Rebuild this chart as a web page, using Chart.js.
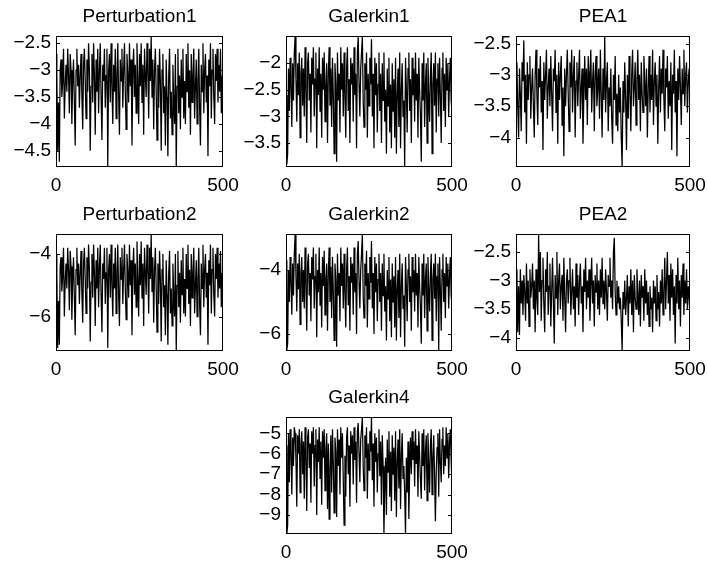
<!DOCTYPE html>
<html>
<head>
    <title>Perturbation / Galerkin / PEA series</title>
    <meta charset="UTF-8">
    <style>
        body { margin: 0; background: #fff; }
        canvas { position: absolute; }
    </style>
</head>
<body>
<script src="https://cdn.jsdelivr.net/npm/chart.js@4.4.1/dist/chart.umd.min.js"></script>
<script>
    // one value every 2.5 steps, 0..500
    var steps = Array.from({length: 201}, function (_, i) { return i * 2.5; });
    var xTicks = [0, 500];

    var titles = ['Perturbation1', 'Galerkin1', 'PEA1', 'Perturbation2', 'Galerkin2', 'PEA2', 'Galerkin4'];

    var perturbation1 = [
        -2.7, -3.1, -4.5, -3.6, -4.7, -3.0, -2.8, -3.5, -3.2, -2.6,
        -3.9, -3.3, -2.9, -3.4, -2.6, -3.1, -3.8, -2.7, -3.0, -4.0,
        -3.2, -2.8, -3.6, -4.4, -3.0, -2.6, -3.3, -2.9, -3.7, -3.1,
        -2.7, -3.5, -4.1, -2.9, -2.6, -3.2, -3.9, -2.8, -3.4, -2.5,
        -3.0, -4.5, -3.3, -2.7, -3.6, -2.5, -3.1, -4.2, -2.8, -3.4,
        -2.6, -3.8, -3.0, -2.5, -3.5, -4.3, -2.9, -3.2, -2.6, -3.7,
        -3.1, -2.6, -4.8, -3.0, -2.7, -3.6, -2.5, -3.3, -4.0, -2.9,
        -3.4, -2.6, -3.9, -3.1, -2.5, -3.5, -4.2, -2.8, -3.2, -2.6,
        -3.7, -3.0, -2.5, -3.4, -4.1, -2.7, -3.1, -3.6, -2.5, -3.3,
        -2.8, -4.4, -3.0, -2.6, -3.5, -2.9, -3.8, -2.5, -3.2, -4.0,
        -2.7, -3.3, -2.5, -3.6, -2.9, -4.2, -2.6, -3.1, -3.5, -2.5,
        -3.0, -3.9, -2.6, -3.2, -2.37, -3.5, -2.8, -4.1, -3.0, -2.6,
        -3.4, -4.3, -2.9, -3.7, -2.6, -3.2, -4.5, -3.0, -2.7, -3.8,
        -3.3, -4.4, -2.8, -3.5, -4.6, -3.1, -2.6, -3.9, -3.4, -4.2,
        -2.9, -3.6, -4.0, -2.7, -4.8, -3.3, -2.6, -3.8, -3.1, -4.1,
        -2.8, -3.5, -2.6, -3.9, -3.2, -4.0, -2.7, -3.4, -2.5, -3.7,
        -3.0, -4.2, -2.7, -3.6, -3.1, -2.6, -3.9, -3.3, -2.8, -4.0,
        -3.2, -2.6, -3.7, -4.4, -2.9, -3.4, -2.5, -3.8, -3.0, -2.7,
        -3.6, -3.1, -4.6, -2.8, -3.3, -2.5, -3.9, -3.0, -2.6, -3.5,
        -4.0, -2.7, -3.2, -2.6, -3.6, -2.9, -3.4, -2.6, -3.8, -3.1,
        -3.7
    ];
    var galerkin1 = [
        -2.6, -3.9, -3.7, -2.1, -2.9, -1.9, -2.4, -3.2, -2.0, -2.7,
        -1.8, -1.5, -2.3, -3.1, -2.0, -2.6, -1.8, -3.4, -2.2, -1.9,
        -2.8, -2.1, -3.0, -1.7, -2.5, -3.5, -2.0, -1.8, -2.7, -2.2,
        -3.3, -1.9, -2.4, -1.7, -3.0, -2.3, -1.8, -3.6, -2.1, -2.6,
        -1.7, -2.9, -2.2, -3.4, -1.9, -2.5, -1.8, -3.1, -2.4, -2.0,
        -3.5, -2.2, -1.7, -2.8, -2.1, -3.2, -1.9, -2.6, -3.7, -2.0,
        -2.4, -3.85, -1.8, -2.7, -2.2, -3.3, -1.7, -2.5, -2.0, -3.0,
        -1.8, -2.6, -3.4, -2.1, -1.7, -2.9, -2.3, -3.5, -1.9, -2.4,
        -2.0, -3.1, -1.7, -2.6, -2.2, -3.6, -1.8, -1.5, -2.4, -3.0,
        -2.1, -1.8, -1.49, -2.7, -3.2, -2.0, -2.5, -1.8, -3.4, -2.2,
        -2.8, -1.9, -2.4, -1.55, -3.0, -2.2, -3.6, -1.9, -2.6, -2.0,
        -3.3, -2.4, -1.8, -2.9, -2.2, -3.5, -2.0, -2.7, -1.8, -3.1,
        -2.5, -3.7, -2.1, -2.8, -1.9, -3.3, -2.4, -3.6, -2.0, -2.9,
        -2.3, -3.4, -1.9, -3.7, -2.6, -2.1, -3.2, -1.8, -3.6, -2.5,
        -2.0, -3.0, -2.7, -3.95, -1.9, -2.5, -3.3, -2.1, -1.8, -2.9,
        -2.3, -3.5, -1.9, -2.6, -2.1, -3.1, -1.8, -2.7, -2.2, -3.4,
        -1.9, -2.5, -3.0, -3.85, -2.0, -2.7, -1.8, -3.2, -2.4, -2.0,
        -3.5, -1.9, -2.6, -3.1, -2.2, -1.8, -3.7, -2.4, -2.0, -2.8,
        -1.8, -3.3, -2.3, -2.0, -3.0, -1.9, -2.6, -3.5, -2.1, -1.8,
        -2.9, -2.2, -3.2, -1.9, -2.5, -2.0, -3.0, -2.3, -1.9, -2.7,
        -2.9
    ];
    var pea1 = [
        -3.2, -2.8, -3.5, -4.0, -2.9, -3.3, -3.9, -2.8, -3.1, -2.45,
        -3.6, -3.0, -4.1, -2.8, -3.4, -3.0, -2.7, -3.7, -3.2, -2.9,
        -3.5, -4.0, -3.0, -2.6, -3.3, -3.8, -2.9, -3.2, -2.7, -3.6,
        -3.1, -4.2, -2.8, -3.4, -3.0, -2.6, -3.7, -3.2, -2.9, -3.5,
        -2.7, -3.3, -3.9, -2.9, -3.1, -2.6, -3.6, -3.0, -4.1, -2.8,
        -3.4, -3.0, -2.7, -3.8, -3.2, -4.3, -2.9, -3.5, -3.0, -2.6,
        -3.3, -3.9, -2.8, -3.2, -2.6, -3.6, -3.0, -2.7, -4.0, -3.1,
        -2.8, -3.5, -3.0, -2.6, -3.7, -3.2, -2.9, -4.1, -3.3, -2.7,
        -3.4, -2.9, -3.8, -2.7, -3.2, -3.0, -2.6, -3.6, -3.1, -2.8,
        -3.9, -3.0, -2.7, -3.5, -3.2, -2.9, -3.7, -2.6, -3.3, -4.0,
        -2.9, -3.4, -2.38, -3.6, -3.1, -2.8, -3.9, -3.2, -3.5, -2.9,
        -3.7, -4.1, -3.0, -3.4, -2.7, -3.8, -3.3, -3.9, -3.0, -3.6,
        -3.2, -4.0, -4.47, -3.1, -3.6, -2.8, -3.4, -4.2, -3.0, -3.7,
        -2.7, -3.3, -3.9, -3.0, -2.6, -3.5, -3.2, -2.8, -3.8, -3.1,
        -2.6, -3.4, -3.0, -3.9, -2.8, -3.3, -3.6, -2.7, -3.1, -3.5,
        -2.9, -4.0, -3.2, -2.7, -3.6, -3.0, -3.4, -2.6, -3.8, -3.1,
        -2.8, -3.5, -3.0, -4.1, -3.2, -2.7, -3.6, -2.9, -3.3, -2.6,
        -3.4, -3.9, -2.9, -3.2, -2.7, -3.7, -3.1, -3.5, -2.8, -4.2,
        -3.0, -3.3, -2.6, -3.6, -3.1, -4.3, -2.9, -3.4, -2.7, -3.2,
        -3.8, -2.9, -3.3, -2.6, -3.5, -3.0, -2.8, -3.6, -3.1, -2.9,
        -3.5
    ];
    var perturbation2 = [
        -4.0, -4.6, -7.0, -5.5, -6.9, -4.4, -4.1, -5.2, -4.7, -3.8,
        -6.0, -4.9, -4.3, -5.1, -3.8, -4.5, -5.8, -3.9, -4.4, -6.1,
        -4.8, -4.1, -5.4, -6.6, -4.5, -3.8, -5.0, -4.3, -5.6, -4.6,
        -3.9, -5.3, -6.2, -4.3, -3.8, -4.8, -5.9, -4.1, -5.1, -3.7,
        -4.5, -6.8, -4.9, -4.0, -5.4, -3.7, -4.6, -6.3, -4.2, -5.1,
        -3.8, -5.7, -4.4, -3.7, -5.3, -6.5, -4.3, -4.8, -3.8, -5.6,
        -4.6, -3.8, -7.0, -4.5, -4.0, -5.4, -3.7, -5.0, -6.0, -4.3,
        -5.1, -3.8, -5.9, -4.6, -3.7, -5.3, -6.3, -4.1, -4.8, -3.8,
        -5.6, -4.5, -3.7, -5.1, -6.1, -4.0, -4.6, -5.4, -3.7, -5.0,
        -4.2, -6.6, -4.5, -3.8, -5.3, -4.3, -5.7, -3.6, -4.8, -6.0,
        -4.0, -5.0, -3.6, -5.4, -4.3, -6.3, -3.8, -4.6, -5.3, -3.7,
        -4.5, -5.9, -3.8, -4.8, -3.37, -5.2, -4.1, -6.2, -4.5, -3.8,
        -5.1, -6.5, -4.3, -5.6, -3.9, -4.8, -6.8, -4.5, -4.0, -5.7,
        -5.0, -6.6, -4.2, -5.3, -6.9, -4.6, -3.9, -5.9, -5.1, -6.3,
        -4.3, -5.4, -6.0, -4.0, -7.1, -5.0, -3.9, -5.7, -4.6, -6.2,
        -4.2, -5.3, -3.8, -5.9, -4.8, -6.0, -4.0, -5.1, -3.7, -5.6,
        -4.5, -6.3, -4.0, -5.4, -4.6, -3.8, -5.9, -5.0, -4.2, -6.0,
        -4.8, -3.8, -5.6, -6.6, -4.3, -5.1, -3.7, -5.7, -4.5, -4.0,
        -5.4, -4.6, -6.9, -4.2, -5.0, -3.7, -5.9, -4.5, -3.8, -5.3,
        -6.0, -4.0, -4.8, -3.8, -5.4, -4.3, -5.1, -3.9, -5.7, -4.6,
        -5.5
    ];
    var galerkin2 = [
        -3.7, -6.5, -6.3, -4.0, -5.0, -3.6, -4.4, -5.4, -3.8, -4.8,
        -3.5, -2.9, -4.2, -5.3, -3.8, -4.6, -3.5, -5.7, -4.1, -3.6,
        -5.0, -4.0, -5.2, -3.3, -4.5, -5.9, -3.8, -3.5, -4.8, -4.1,
        -5.6, -3.6, -4.3, -3.3, -5.2, -4.2, -3.5, -6.1, -4.0, -4.7,
        -3.3, -5.1, -4.1, -5.8, -3.6, -4.5, -3.4, -5.4, -4.3, -3.8,
        -5.9, -4.1, -3.3, -5.0, -3.9, -5.5, -3.6, -4.7, -6.2, -3.8,
        -4.3, -6.4, -3.5, -4.8, -4.1, -5.6, -3.3, -4.5, -3.8, -5.2,
        -3.5, -4.7, -5.8, -4.0, -3.3, -5.1, -4.2, -5.9, -3.6, -4.4,
        -3.8, -5.4, -3.3, -4.7, -4.1, -6.0, -3.5, -3.1, -4.4, -5.2,
        -4.0, -3.5, -2.88, -4.8, -5.5, -3.8, -4.5, -3.4, -5.8, -4.1,
        -4.9, -3.6, -4.4, -3.1, -5.2, -4.1, -6.0, -3.6, -4.7, -3.8,
        -5.6, -4.3, -3.5, -5.0, -4.1, -5.9, -3.8, -4.8, -3.5, -5.3,
        -4.5, -6.2, -4.0, -4.9, -3.6, -5.6, -4.3, -6.1, -3.8, -5.0,
        -4.2, -5.8, -3.6, -6.2, -4.6, -4.0, -5.5, -3.5, -6.1, -4.5,
        -3.8, -5.2, -4.8, -6.4, -3.6, -4.5, -5.6, -4.0, -3.5, -5.0,
        -4.2, -5.9, -3.6, -4.7, -4.0, -5.3, -3.5, -4.8, -4.1, -5.8,
        -3.6, -4.5, -5.2, -6.3, -3.8, -4.8, -3.5, -5.5, -4.3, -3.8,
        -5.9, -3.6, -4.6, -5.3, -4.1, -3.5, -6.2, -4.3, -3.8, -4.9,
        -3.5, -5.6, -4.2, -3.8, -6.5, -3.6, -4.6, -5.9, -4.0, -3.5,
        -5.0, -4.1, -5.5, -3.6, -4.5, -3.8, -5.2, -4.2, -3.6, -4.8,
        -5.1
    ];
    var pea2 = [
        -3.3, -2.8, -3.9, -3.1, -3.95, -2.8, -3.4, -3.0, -3.6, -2.9,
        -3.2, -3.7, -2.7, -3.4, -3.0, -3.8, -2.8, -3.3, -3.1, -2.7,
        -3.5, -3.0, -3.9, -2.8, -3.3, -3.6, -2.19, -3.2, -2.5, -3.7,
        -3.0, -2.6, -3.4, -3.9, -2.8, -3.2, -2.5, -3.6, -3.1, -2.7,
        -3.8, -3.2, -2.6, -3.4, -4.1, -2.9, -3.3, -2.5, -3.6, -3.0,
        -2.7, -3.5, -3.1, -2.9, -3.7, -2.6, -3.3, -3.9, -3.0, -2.8,
        -3.4, -3.0, -2.6, -3.6, -3.2, -2.8, -3.5, -3.1, -3.8, -2.7,
        -3.3, -2.9, -3.6, -3.0, -2.7, -3.4, -3.1, -3.9, -2.8, -3.2,
        -2.6, -3.5, -3.0, -3.3, -2.8, -3.7, -3.1, -2.6, -3.4, -3.0,
        -3.8, -2.9, -3.2, -2.7, -3.5, -3.0, -3.6, -2.8, -3.3, -2.6,
        -3.4, -3.0, -3.5, -2.8, -3.2, -3.7, -2.9, -3.1, -2.6, -3.3,
        -3.0, -3.5, -2.5, -2.25, -3.2, -3.6, -3.0, -3.4, -3.1, -3.5,
        -3.3, -3.7, -4.23, -3.2, -3.5, -3.0, -3.6, -3.3, -2.9, -3.8,
        -3.1, -3.4, -2.8, -3.6, -3.0, -3.9, -2.9, -3.3, -3.5, -2.8,
        -3.2, -3.6, -3.0, -3.8, -2.9, -3.3, -3.1, -3.7, -2.8, -3.4,
        -3.0, -3.6, -3.2, -3.8, -3.1, -3.5, -3.3, -3.9, -3.0, -3.4,
        -3.1, -3.7, -2.9, -3.5, -3.2, -3.8, -3.0, -3.4, -2.8, -3.6,
        -3.2, -2.6, -3.5, -3.0, -2.5, -3.4, -2.9, -3.7, -2.7, -3.3,
        -2.8, -3.6, -3.1, -4.1, -2.9, -3.4, -2.6, -3.5, -3.0, -3.8,
        -2.9, -3.3, -2.7, -3.6, -3.0, -3.4, -2.8, -3.5, -3.1, -3.3,
        -3.6
    ];
    var galerkin4 = [
        -5.6, -9.93, -9.5, -5.0, -7.4, -4.8, -5.9, -8.0, -5.2, -6.6,
        -4.7, -5.0, -6.3, -8.6, -5.1, -6.0, -4.8, -7.9, -5.5, -4.9,
        -7.0, -5.4, -8.2, -4.7, -6.1, -8.8, -5.2, -4.8, -6.7, -5.5,
        -8.4, -4.9, -6.0, -4.7, -7.6, -5.6, -4.8, -9.0, -5.3, -6.4,
        -4.7, -7.2, -5.4, -8.5, -4.9, -6.2, -4.8, -7.8, -5.8, -5.0,
        -8.7, -5.5, -9.2, -6.8, -5.1, -7.9, -4.8, -6.5, -8.9, -5.2,
        -5.9, -9.1, -4.8, -6.6, -5.3, -8.0, -4.7, -6.2, -5.0, -7.3,
        -9.5, -6.1, -8.1, -5.2, -4.7, -7.0, -5.6, -8.6, -4.9, -6.0,
        -5.1, -7.5, -4.7, -6.3, -5.4, -8.4, -4.9, -4.5, -6.0, -7.4,
        -5.3, -4.8, -4.2, -6.6, -7.8, -5.1, -6.2, -4.7, -8.2, -5.5,
        -6.8, -4.9, -5.9, -4.2, -7.3, -5.5, -8.6, -5.0, -6.4, -5.2,
        -7.9, -6.0, -4.8, -7.1, -5.4, -8.5, -5.1, -6.6, -9.93, -7.6,
        -6.2, -9.0, -5.3, -6.9, -4.9, -8.1, -5.9, -8.8, -5.1, -7.0,
        -5.7, -8.3, -4.9, -9.1, -6.4, -5.3, -7.7, -4.8, -8.7, -6.1,
        -5.0, -7.2, -6.6, -8.0, -9.93, -6.2, -7.9, -5.4, -9.2, -6.8,
        -5.2, -7.0, -4.9, -6.3, -5.4, -7.6, -4.8, -6.5, -5.6, -8.1,
        -4.9, -6.1, -7.3, -8.2, -5.0, -6.6, -4.8, -7.8, -5.9, -5.1,
        -8.3, -5.0, -6.4, -7.9, -5.6, -4.8, -8.0, -6.2, -5.1, -7.1,
        -9.3, -6.9, -5.7, -5.0, -8.1, -4.8, -6.4, -7.4, -5.3, -4.7,
        -7.0, -5.6, -6.6, -4.7, -6.2, -5.0, -7.2, -5.4, -4.8, -6.3,
        -7.6
    ];

    var series = [perturbation1, galerkin1, pea1, perturbation2, galerkin2, pea2, galerkin4];

    // y tick labels and limits of each panel
    var yTicks = [
        [-4.5, -4, -3.5, -3, -2.5],
        [-3.5, -3, -2.5, -2],
        [-4, -3.5, -3, -2.5],
        [-6, -4],
        [-6, -4],
        [-4, -3.5, -3, -2.5],
        [-9, -8, -7, -6, -5]
    ];
    var yMin = [-4.8, -3.95, -4.47, -7.1, -6.53, -4.23, -9.93];
    var yMax = [-2.365, -1.49, -2.38, -3.36, -2.88, -2.185, -4.2];

    // axes boxes: [left, top, width, height]
    var boxes = [
        [56, 36, 167, 131], [286, 36, 166, 131], [516, 36, 174, 131],
        [56, 234, 167, 117], [286, 234, 166, 117], [516, 234, 174, 117],
        [286, 417, 166, 117]
    ];

    var FONT = {family: '"Liberation Sans", Arial, Helvetica, sans-serif', size: 19};
    var PAD_L = 50, PAD_T = 30, PAD_R = 28, PAD_B = 32;

    function fmt(v) {
        return String(v).replace('-', '\u2212');
    }

    var frame = {
        id: 'frame',
        afterDatasetsDraw: function (chart) {
            var ctx = chart.ctx, a = chart.chartArea, y = chart.scales.y;
            ctx.save();
            ctx.strokeStyle = '#000';
            ctx.lineWidth = 1;
            ctx.strokeRect(a.left + 0.5, a.top + 0.5, a.right - a.left - 1, a.bottom - a.top - 1);
            ctx.beginPath();
            y.ticks.forEach(function (t) {
                var py = Math.round(y.getPixelForValue(t.value)) + 0.5;
                ctx.moveTo(a.left, py); ctx.lineTo(a.left + 4, py);
                ctx.moveTo(a.right, py); ctx.lineTo(a.right - 4, py);
            });
            ctx.stroke();
            ctx.fillStyle = '#000';
            ctx.font = FONT.size + 'px ' + FONT.family;
            ctx.textAlign = 'center';
            ctx.textBaseline = 'alphabetic';
            ctx.fillText(chart.options.plugins.panelTitle.text, (a.left + a.right) / 2, a.top - 14);
            ctx.restore();
        }
    };

    series.forEach(function (values, k) {
        var b = boxes[k];
        var canvas = document.createElement('canvas');
        canvas.width = b[2] + PAD_L + PAD_R;
        canvas.height = b[3] + PAD_T + PAD_B;
        canvas.style.left = (b[0] - PAD_L) + 'px';
        canvas.style.top = (b[1] - PAD_T) + 'px';
        document.body.appendChild(canvas);

        var points = values.map(function (v, i) { return {x: steps[i], y: v}; });
        var ticksY = yTicks[k];

        new Chart(canvas.getContext('2d'), {
            type: 'line',
            data: {
                datasets: [{
                    data: points,
                    borderColor: '#000',
                    borderWidth: 1.25,
                    pointRadius: 0,
                    tension: 0,
                    fill: false
                }]
            },
            options: {
                responsive: false,
                animation: false,
                layout: {padding: {left: 0, top: PAD_T, right: PAD_R, bottom: 0}},
                plugins: {
                    legend: {display: false},
                    tooltip: {enabled: false},
                    panelTitle: {text: titles[k]}
                },
                scales: {
                    x: {
                        type: 'linear',
                        min: 0,
                        max: 500,
                        grid: {display: false, drawTicks: false},
                        border: {display: false},
                        ticks: {color: '#000', font: FONT, padding: 7, maxRotation: 0,
                            callback: function (v) { return fmt(v); }},
                        afterBuildTicks: function (s) {
                            s.ticks = xTicks.map(function (v) { return {value: v}; });
                        },
                        afterFit: function (s) {
                            s.height = PAD_B;
                            s.paddingLeft = 0;
                            s.paddingRight = 0;
                        }
                    },
                    y: {
                        min: yMin[k],
                        max: yMax[k],
                        grid: {display: false, drawTicks: false},
                        border: {display: false},
                        ticks: {color: '#000', font: FONT, padding: 5,
                            callback: function (v) { return fmt(v); }},
                        afterBuildTicks: function (s) {
                            s.ticks = ticksY.map(function (v) { return {value: v}; });
                        },
                        afterFit: function (s) {
                            s.width = PAD_L;
                            s.paddingTop = 0;
                            s.paddingBottom = 0;
                        }
                    }
                }
            },
            plugins: [frame]
        });
    });
</script>
</body>
</html>
